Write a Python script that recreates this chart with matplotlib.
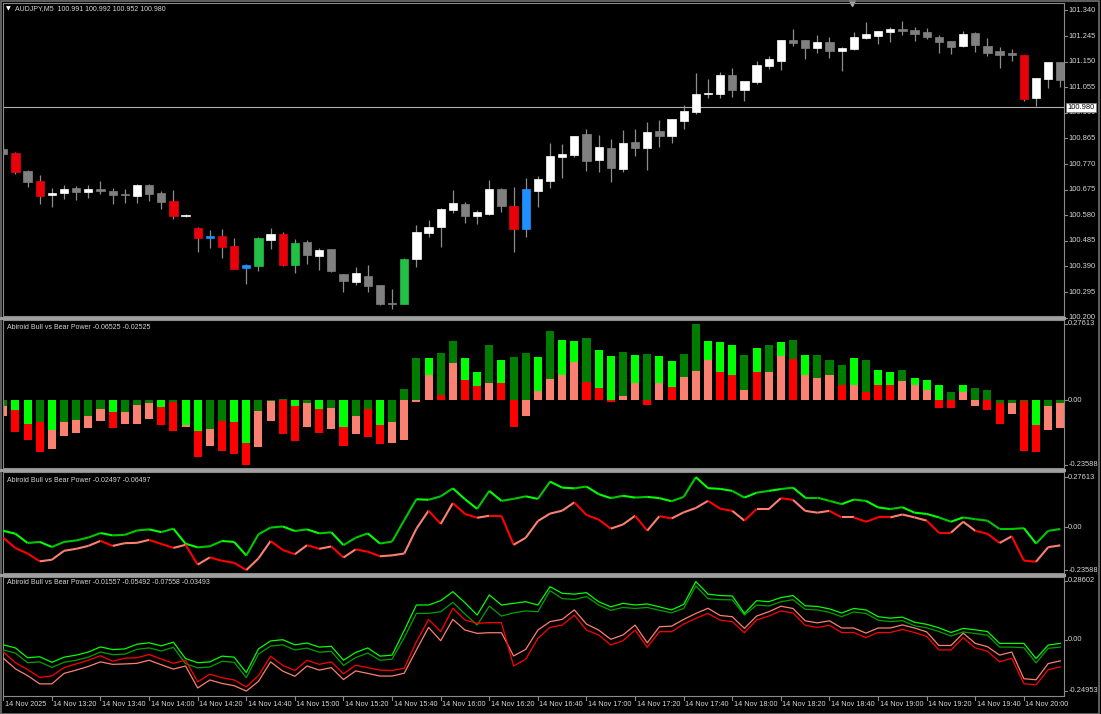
import matplotlib
matplotlib.use("Agg")
import matplotlib.pyplot as plt
from matplotlib.collections import LineCollection
from matplotlib.patches import Rectangle
import matplotlib.transforms as mtransforms

W, H = 1101, 714
plt.rcParams['font.family'] = ['Liberation Sans', 'DejaVu Sans']

# AUDJPY M5, 14 Nov 2025, bars from 13:00
opens = [100.826, 100.811, 100.744, 100.707, 100.656, 100.661, 100.681, 100.666, 100.677, 100.671,
         100.659, 100.652, 100.692, 100.661, 100.633, 100.576, 100.531, 100.494, 100.503, 100.467,
         100.383, 100.393, 100.489, 100.509, 100.396, 100.481, 100.430, 100.454, 100.363, 100.333,
         100.354, 100.321, 100.249, 100.252, 100.416, 100.514, 100.537, 100.600, 100.622, 100.578,
         100.586, 100.676, 100.614, 100.528, 100.671, 100.708, 100.796, 100.803, 100.881, 100.785,
         100.829, 100.751, 100.851, 100.829, 100.892, 100.875, 100.931, 100.962, 101.029, 101.030,
         101.100, 101.045, 101.075, 101.134, 101.153, 101.230, 101.231, 101.199, 101.224, 101.190,
         101.197, 101.239, 101.245, 101.260, 101.270, 101.266, 101.259, 101.241, 101.225, 101.208,
         101.255, 101.209, 101.189, 101.181, 101.175, 101.014, 101.085, 101.147]
highs = [100.844, 100.815, 100.748, 100.729, 100.682, 100.691, 100.687, 100.693, 100.706, 100.680,
         100.677, 100.696, 100.696, 100.671, 100.672, 100.584, 100.537, 100.525, 100.530, 100.495,
         100.399, 100.500, 100.533, 100.518, 100.492, 100.488, 100.459, 100.454, 100.363, 100.388,
         100.395, 100.321, 100.306, 100.420, 100.544, 100.562, 100.608, 100.674, 100.630, 100.599,
         100.711, 100.680, 100.686, 100.717, 100.727, 100.847, 100.843, 100.873, 100.900, 100.877,
         100.863, 100.896, 100.899, 100.926, 100.932, 100.937, 100.988, 101.107, 101.084, 101.110,
         101.125, 101.079, 101.153, 101.171, 101.230, 101.270, 101.231, 101.249, 101.240, 101.203,
         101.259, 101.298, 101.264, 101.280, 101.302, 101.280, 101.275, 101.249, 101.225, 101.265,
         101.259, 101.236, 101.205, 101.197, 101.175, 101.088, 101.150, 101.147]
lows = [100.800, 100.732, 100.686, 100.621, 100.612, 100.640, 100.637, 100.644, 100.659, 100.621,
        100.626, 100.624, 100.633, 100.604, 100.567, 100.572, 100.445, 100.459, 100.422, 100.382,
        100.325, 100.374, 100.455, 100.393, 100.366, 100.399, 100.377, 100.370, 100.294, 100.322,
        100.294, 100.247, 100.233, 100.249, 100.389, 100.500, 100.461, 100.589, 100.550, 100.546,
        100.581, 100.592, 100.445, 100.500, 100.609, 100.680, 100.719, 100.797, 100.744, 100.742,
        100.702, 100.742, 100.800, 100.747, 100.834, 100.847, 100.900, 100.954, 101.014, 101.014,
        101.019, 101.004, 101.067, 101.123, 101.120, 101.208, 101.160, 101.183, 101.162, 101.114,
        101.193, 101.233, 101.214, 101.224, 101.249, 101.228, 101.233, 101.181, 101.178, 101.205,
        101.187, 101.171, 101.125, 101.153, 101.005, 100.986, 101.053, 101.055]
closes = [100.807, 100.739, 100.703, 100.651, 100.662, 100.678, 100.667, 100.678, 100.670, 100.656,
          100.654, 100.692, 100.659, 100.630, 100.576, 100.582, 100.494, 100.502, 100.463, 100.382,
          100.396, 100.495, 100.509, 100.395, 100.478, 100.432, 100.450, 100.373, 100.337, 100.366,
          100.318, 100.252, 100.254, 100.416, 100.517, 100.535, 100.602, 100.624, 100.578, 100.591,
          100.678, 100.613, 100.530, 100.678, 100.713, 100.800, 100.807, 100.873, 100.782, 100.833,
          100.756, 100.848, 100.831, 100.890, 100.875, 100.937, 100.968, 101.029, 101.034, 101.100,
          101.045, 101.079, 101.137, 101.160, 101.230, 101.220, 101.199, 101.222, 101.190, 101.199,
          101.241, 101.251, 101.264, 101.270, 101.262, 101.252, 101.240, 101.224, 101.205, 101.254,
          101.210, 101.183, 101.175, 101.173, 101.011, 101.088, 101.147, 101.082]
# w = up, g = down, R = red signal, G = green signal, b = blue signal
candle_kind = ("gRgRwwgwgg" "gwggRwRbRR" "bGwRGgwggw" "gggGwwwwgw" "wgRbwwwwgw"
               "gwgwgwwwww" "gwwwwggwgw" "wwwwgggggw" "ggggRwwg")

# Bull vs Bear Power (windows 2 and 3)
bull = [-0.020, -0.036, -0.087, -0.081, -0.109, -0.081, -0.073, -0.057, -0.032, -0.045,
        -0.042, -0.018, -0.012, -0.027, -0.008, -0.091, -0.111, -0.105, -0.076, -0.081,
        -0.156, -0.039, -0.002, 0.004, -0.021, -0.012, -0.034, -0.028, -0.099, -0.058,
        -0.034, -0.090, -0.079, 0.039, 0.154, 0.151, 0.170, 0.214, 0.154, 0.101,
        0.200, 0.145, 0.156, 0.170, 0.156, 0.251, 0.218, 0.214, 0.224, 0.182,
        0.160, 0.173, 0.163, 0.167, 0.160, 0.143, 0.167, 0.276, 0.215, 0.211,
        0.200, 0.163, 0.190, 0.200, 0.210, 0.218, 0.163, 0.163, 0.145, 0.127,
        0.152, 0.145, 0.109, 0.100, 0.110, 0.080, 0.073, 0.054, 0.030, 0.054,
        0.044, 0.036, -0.010, -0.010, -0.005, -0.090, -0.020, -0.010]
bear = [-0.058, -0.115, -0.145, -0.188, -0.179, -0.130, -0.119, -0.103, -0.075, -0.103,
        -0.088, -0.086, -0.070, -0.092, -0.114, -0.097, -0.206, -0.166, -0.185, -0.196,
        -0.236, -0.172, -0.076, -0.125, -0.149, -0.099, -0.119, -0.106, -0.167, -0.122,
        -0.135, -0.160, -0.155, -0.145, -0.008, 0.091, 0.018, 0.133, 0.073, 0.052,
        0.063, 0.063, -0.097, -0.058, 0.034, 0.075, 0.091, 0.137, 0.067, 0.042,
        -0.008, 0.015, 0.063, -0.019, 0.061, 0.048, 0.082, 0.106, 0.145, 0.102,
        0.090, 0.036, 0.100, 0.100, 0.160, 0.150, 0.090, 0.080, 0.090, 0.054,
        0.054, 0.030, 0.054, 0.054, 0.070, 0.054, 0.036, -0.030, -0.030, 0.030,
        -0.020, -0.036, -0.087, -0.050, -0.184, -0.190, -0.110, -0.100]
# L = lime, D = dark green ; R = red, S = salmon
bull_col = ("DLLDLDDDDL" "DDDLDLLDDL" "LDDDLDLDLD" "DLDDDLDDLL" "DLDDLDLLDL"
            "LDLDLLDDLL" "LDLDLDLDDD" "LDLLDLLLDL" "DDDDDLDD")
bear_col = ("SRRRSSSSSR" "SSSRRSRSRR" "RSSRRSRSRS" "RRSSSSRSRR" "SRRSSSSSRR"
            "RSSRSRSSSR" "RSRSSRSSSR" "SRRRSSSRRS" "SRRSRRSS")

# window 4: four lines
lime4 = [-0.025, -0.040, -0.088, -0.083, -0.110, -0.085, -0.075, -0.060, -0.035, -0.048,
         -0.045, -0.022, -0.015, -0.030, -0.012, -0.092, -0.112, -0.108, -0.080, -0.085,
         -0.160, -0.045, -0.006, 0.000, -0.025, -0.016, -0.036, -0.032, -0.100, -0.062,
         -0.040, -0.080, -0.075, 0.045, 0.169, 0.169, 0.190, 0.234, 0.180, 0.120,
         0.218, 0.169, 0.177, 0.185, 0.169, 0.258, 0.226, 0.222, 0.229, 0.185,
         0.160, 0.177, 0.169, 0.174, 0.160, 0.145, 0.172, 0.283, 0.222, 0.215,
         0.213, 0.128, 0.190, 0.185, 0.205, 0.215, 0.165, 0.162, 0.150, 0.130,
         0.152, 0.145, 0.112, 0.105, 0.110, 0.085, 0.075, 0.058, 0.035, 0.055,
         0.048, 0.040, -0.018, -0.018, -0.018, -0.092, -0.026, -0.018]
green4 = [-0.050, -0.065, -0.112, -0.108, -0.135, -0.110, -0.100, -0.085, -0.060, -0.073,
          -0.070, -0.047, -0.040, -0.055, -0.037, -0.117, -0.137, -0.133, -0.105, -0.110,
          -0.185, -0.070, -0.031, -0.025, -0.050, -0.041, -0.061, -0.057, -0.125, -0.087,
          -0.065, -0.100, -0.095, 0.010, 0.128, 0.128, 0.136, 0.182, 0.125, 0.071,
          0.164, 0.115, 0.131, 0.140, 0.136, 0.239, 0.200, 0.196, 0.210, 0.169,
          0.143, 0.157, 0.152, 0.157, 0.143, 0.131, 0.152, 0.262, 0.200, 0.195,
          0.194, 0.120, 0.169, 0.164, 0.185, 0.195, 0.148, 0.145, 0.133, 0.112,
          0.135, 0.128, 0.095, 0.088, 0.093, 0.068, 0.058, 0.040, 0.018, 0.038,
          0.030, 0.022, -0.036, -0.036, -0.039, -0.113, -0.042, -0.036]
red4 = [-0.060, -0.112, -0.145, -0.184, -0.176, -0.136, -0.118, -0.100, -0.078, -0.105,
        -0.090, -0.088, -0.072, -0.094, -0.115, -0.100, -0.205, -0.168, -0.185, -0.196,
        -0.230, -0.175, -0.080, -0.125, -0.150, -0.100, -0.120, -0.108, -0.166, -0.124,
        -0.136, -0.148, -0.150, -0.139, -0.010, 0.099, 0.039, 0.153, 0.096, 0.080,
        0.083, 0.083, -0.128, -0.095, 0.007, 0.060, 0.071, 0.120, 0.047, 0.023,
        -0.026, -0.005, 0.047, -0.037, 0.039, 0.039, 0.076, 0.104, 0.128, 0.095,
        0.088, 0.034, 0.096, 0.115, 0.140, 0.130, 0.070, 0.060, 0.070, 0.035,
        0.035, 0.010, 0.035, 0.035, 0.050, 0.035, 0.016, -0.050, -0.050, 0.010,
        -0.040, -0.056, -0.108, -0.090, -0.214, -0.220, -0.146, -0.132]
salmon4 = [-0.090, -0.142, -0.175, -0.215, -0.215, -0.164, -0.148, -0.130, -0.108, -0.120,
           -0.118, -0.115, -0.100, -0.122, -0.143, -0.128, -0.235, -0.196, -0.213, -0.224,
           -0.250, -0.203, -0.108, -0.153, -0.178, -0.128, -0.148, -0.136, -0.194, -0.152,
           -0.164, -0.177, -0.177, -0.163, -0.050, 0.060, -0.005, 0.099, 0.047, 0.031,
           0.034, 0.034, -0.079, -0.047, 0.047, 0.088, 0.099, 0.145, 0.076, 0.047,
           0.002, 0.023, 0.071, -0.015, 0.063, 0.066, 0.099, 0.128, 0.153, 0.118,
           0.112, 0.055, 0.115, 0.136, 0.163, 0.152, 0.092, 0.082, 0.092, 0.057,
           0.057, 0.032, 0.057, 0.057, 0.072, 0.057, 0.038, -0.028, -0.028, 0.032,
           -0.018, -0.034, -0.075, -0.060, -0.190, -0.195, -0.116, -0.103]

start_hour, start_min = 13, 0
price_ticks = [101.340, 101.245, 101.150, 101.055, 100.960, 100.865, 100.770,
               100.675, 100.580, 100.485, 100.390, 100.295, 100.200]
ind_ticks = [0.27613, 0.0, -0.23588]
ind4_ticks = [0.28602, 0.0, -0.24953]
last_price = 100.980

BG = 'black'
FRAME = '#8a8a8a'
TXT = '#d6d6d6'
COL = {'w': '#ffffff', 'g': '#808080', 'R': '#e8000b', 'G': '#22c045', 'b': '#1e90ff',
       'L': '#00ff00', 'D': '#007d00', 'S': '#fa8072'}
COL_R = '#ff0000'

STEP = 12.15
X0 = 3.3
xlim = ((3 - X0) / STEP, (1064 - X0) / STEP)

fig = plt.figure(figsize=(W / 100, H / 100), dpi=100, facecolor=BG)


def make_axes(top, bottom, ylim):
    ax = fig.add_axes([3 / W, 1 - bottom / H, (1064 - 3) / W, (bottom - top) / H])
    ax.set_facecolor(BG)
    ax.set_xlim(*xlim)
    ax.set_ylim(*ylim)
    ax.set_xticks([])
    ax.set_yticks([])
    for s in ax.spines.values():
        s.set_color(FRAME)
        s.set_linewidth(0.8)
    return ax


def right_labels(ax, ticks, fmt):
    tr = mtransforms.blended_transform_factory(ax.transAxes, ax.transData)
    for t in ticks:
        ax.plot([1.0, 1.003], [t, t], color=FRAME, lw=0.8, transform=tr, clip_on=False)
        lab = '0.00' if t == 0 else fmt.format(t)
        ax.text(1.004, t, lab, transform=tr, color=TXT, fontsize=5.4,
                va='center', ha='left', clip_on=False)


ax1 = make_axes(3, 316, (100.2061, 101.3675))
ax2 = make_axes(320, 468, (-0.2469, 0.2905))
ax3 = make_axes(472, 573, (-0.2522, 0.3040))
ax4 = make_axes(577, 696, (-0.2741, 0.3053))

# candles
for i in range(len(opens)):
    o, h, l, c = opens[i], highs[i], lows[i], closes[i]
    col = COL[candle_kind[i]]
    ax1.vlines(i, l, h, color='#8c8c8c', lw=0.9, zorder=2)
    lo, hi = min(o, c), max(o, c)
    if hi - lo < 0.004:
        ax1.hlines((o + c) / 2, i - 0.34, i + 0.34, color=col if col != '#808080' else '#9a9a9a',
                   lw=1.2, zorder=3)
    else:
        ax1.add_patch(Rectangle((i - 0.34, lo), 0.68, hi - lo, facecolor=col,
                                edgecolor=col, lw=0.5, zorder=3))
ax1.axhline(last_price, color='#b0b0b0', lw=0.8, zorder=1)
right_labels(ax1, price_ticks, '{:.3f}')
tr1 = mtransforms.blended_transform_factory(ax1.transAxes, ax1.transData)
ax1.text(1.003, last_price, '100.980', transform=tr1, color='black', fontsize=5.4,
         va='center', ha='left', clip_on=False,
         bbox=dict(boxstyle='square,pad=0.15', fc='white', ec='#808080', lw=0.5))
ax1.text(0.003, 0.982, '\u25bc', transform=ax1.transAxes, color='white', fontsize=4.5,
         va='center', ha='left', family='DejaVu Sans')
ax1.text(0.0115, 0.982, 'AUDJPY,M5  100.991 100.992 100.952 100.980', transform=ax1.transAxes,
         color=TXT, fontsize=5.0, va='center', ha='left')
ax1.plot([(852 - X0) / STEP], [1.0], marker='v', color='#b0b0b0', ms=5,
         transform=mtransforms.blended_transform_factory(ax1.transData, ax1.transAxes),
         clip_on=False)

# histogram window
for i in range(len(bull)):
    bars = [(bull[i], COL[bull_col[i]]), (bear[i], COL_R if bear_col[i] == 'R' else COL['S'])]
    bars.sort(key=lambda t: -abs(t[0]))
    for v, col in bars:
        ax2.bar(i, v, width=0.66, color=col, zorder=2)
right_labels(ax2, ind_ticks, '{:.5f}')
ax2.text(0.004, 0.95, 'Abiroid Bull vs Bear Power -0.06525 -0.02525', transform=ax2.transAxes,
         color=TXT, fontsize=5.0, va='center', ha='left')


def coloured_line(ax, vals, cols, lw):
    segs = [[(i - 1, vals[i - 1]), (i, vals[i])] for i in range(1, len(vals))]
    ax.add_collection(LineCollection(segs, colors=cols, linewidths=lw, zorder=3))


coloured_line(ax3, bull, [COL[c] if c == 'L' else '#00c800' for c in bull_col[1:]], 1.5)
coloured_line(ax3, bear, [COL_R if c == 'R' else COL['S'] for c in bear_col[1:]], 1.5)
right_labels(ax3, ind_ticks, '{:.5f}')
ax3.text(0.004, 0.92, 'Abiroid Bull vs Bear Power -0.02497 -0.06497', transform=ax3.transAxes,
         color=TXT, fontsize=5.0, va='center', ha='left')

xs = list(range(len(bull)))
ax4.plot(xs, green4, color='#00a000', lw=0.9, zorder=3)
ax4.plot(xs, lime4, color='#00ff00', lw=0.9, zorder=3)
ax4.plot(xs, salmon4, color='#fa8072', lw=0.9, zorder=3)
ax4.plot(xs, red4, color='#ff0000', lw=0.9, zorder=3)
right_labels(ax4, ind4_ticks, '{:.5f}')
ax4.text(0.004, 0.955, 'Abiroid Bull vs Bear Power -0.01557 -0.05492 -0.07558 -0.03493',
         transform=ax4.transAxes, color=TXT, fontsize=5.0, va='center', ha='left')

# time scale
trx = mtransforms.blended_transform_factory(ax4.transData, ax4.transAxes)
for i in range(0, len(bull), 4):
    mins = start_hour * 60 + start_min + 5 * i
    lab = '14 Nov 2025' if i == 0 else '14 Nov {:02d}:{:02d}'.format(mins // 60, mins % 60)
    ax4.plot([i, i], [0, -0.03], color=FRAME, lw=0.8, transform=trx, clip_on=False)
    ax4.text(i + 0.12, -0.07, lab, transform=trx, color=TXT, fontsize=5.2,
             va='center', ha='left', clip_on=False)

# window separators and frame
for y in (318, 470, 575):
    fig.add_artist(plt.Line2D([0, 1064 / W], [1 - y / H, 1 - y / H], color='#a0a0a0', lw=2.2,
                              transform=fig.transFigure))
fig.add_artist(Rectangle((0.0005, 0.0007), 0.998, 0.998, fill=False, edgecolor='#707070', lw=1.2,
                         transform=fig.transFigure))

fig.savefig('out.png', dpi=100, facecolor=BG)
